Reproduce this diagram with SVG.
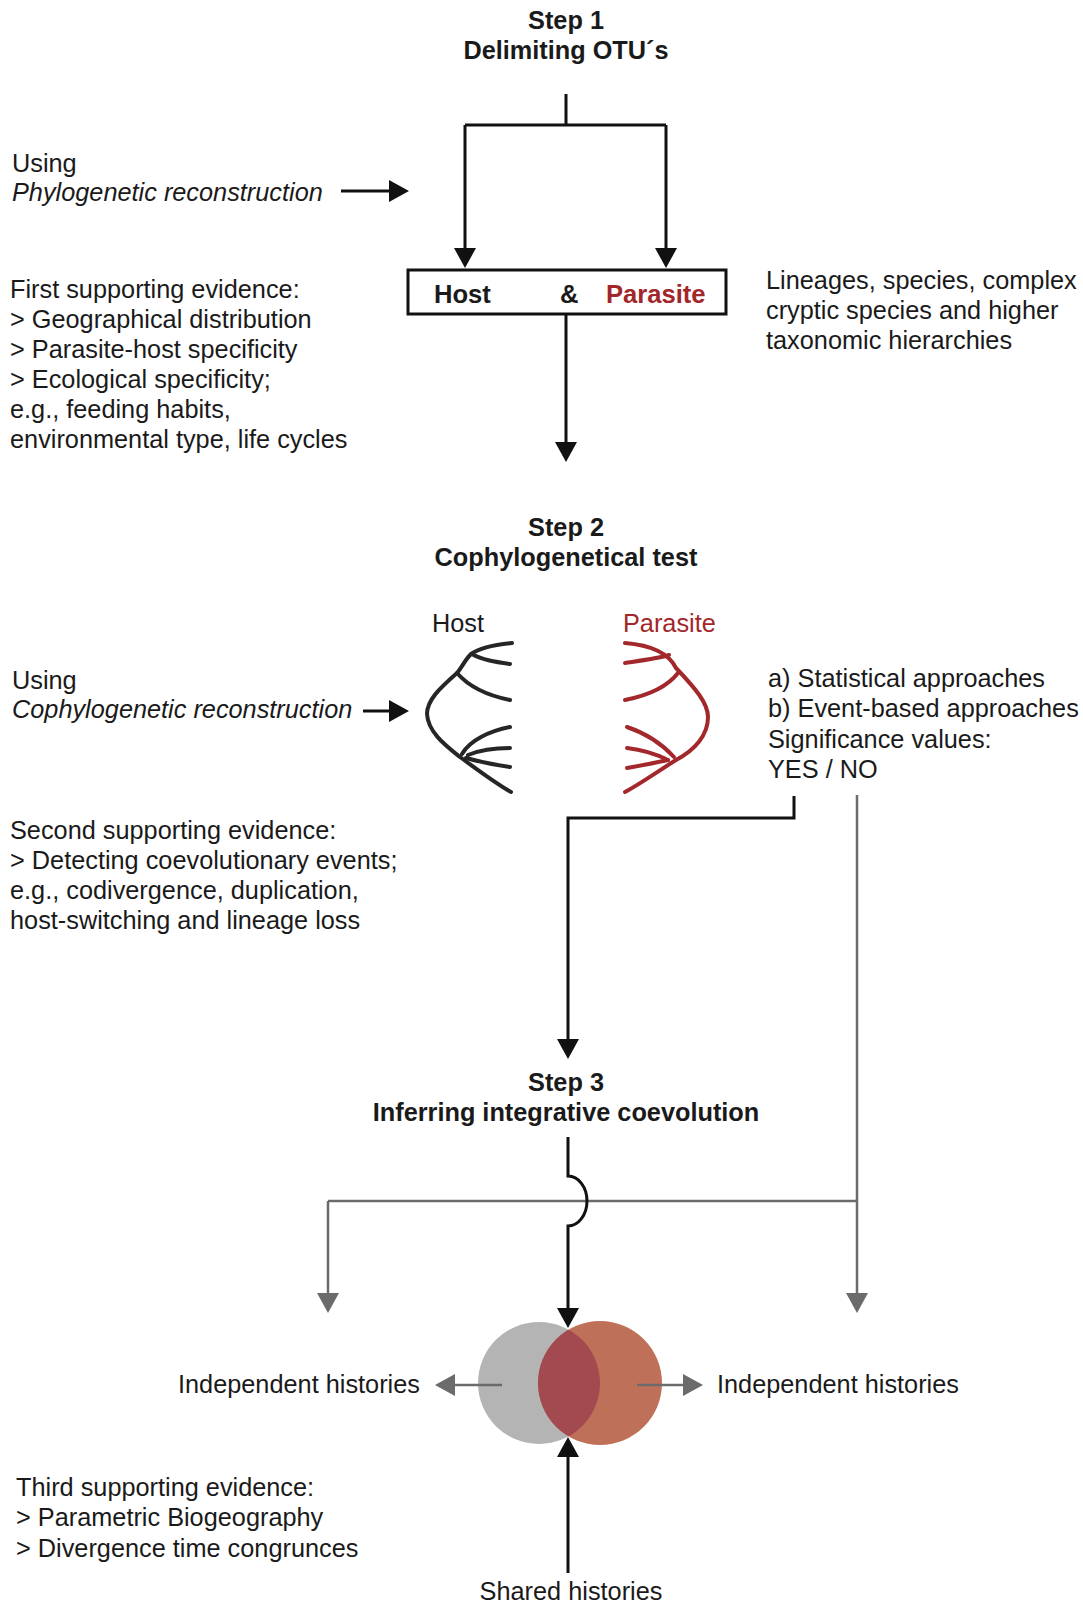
<svg xmlns="http://www.w3.org/2000/svg" width="1083" height="1604" viewBox="0 0 1083 1604">
<style>
text{font-family:"Liberation Sans",Arial,sans-serif;font-size:25.3px;fill:#1a1a1a}
.b{font-weight:bold;font-size:25.3px}
.c{text-anchor:middle}
.i{font-style:italic}
.red{fill:#a3262a}
.k{fill:none;stroke:#111;stroke-width:3}
.g{fill:none;stroke:#6b6b6b;stroke-width:2.5}
.tree{fill:none;stroke-width:4;stroke-linecap:round}
</style>
<defs>
<marker id="ak" viewBox="0 0 20 22" refX="16" refY="11" markerWidth="20" markerHeight="22" markerUnits="userSpaceOnUse" orient="auto"><path d="M0,0 L20,11 L0,22 z" fill="#111"/></marker>
<marker id="ag" viewBox="0 0 20 22" refX="16" refY="11" markerWidth="20" markerHeight="22" markerUnits="userSpaceOnUse" orient="auto"><path d="M0,0 L20,11 L0,22 z" fill="#6b6b6b"/></marker>
<clipPath id="cg"><circle cx="539" cy="1383" r="61"/></clipPath>
</defs>

<g id="step1">
<text class="b c" x="566" y="29">Step 1</text>
<text class="b c" x="566" y="59">Delimiting OTU´s</text>
</g>
<g id="using1">
<text x="12" y="172">Using</text>
<text class="i" x="12" y="201">Phylogenetic reconstruction</text>
</g>
<g id="evidence1">
<text x="10" y="298">First supporting evidence:</text>
<text x="10" y="328">&gt; Geographical distribution</text>
<text x="10" y="358">&gt; Parasite-host specificity</text>
<text x="10" y="388">&gt; Ecological specificity;</text>
<text x="10" y="418">e.g., feeding habits,</text>
<text x="10" y="448">environmental type, life cycles</text>
</g>
<g id="hostparasitebox">
<rect x="408" y="270" width="318" height="44" fill="#fff" stroke="#111" stroke-width="3"/>
<text class="b" x="434" y="303" style="font-size:25.6px">Host</text>
<text class="b" x="560" y="303" style="font-size:25.6px">&amp;</text>
<text class="b red" x="606" y="303" style="font-size:25.6px">Parasite</text>
</g>
<g id="lineages">
<text x="766" y="289">Lineages, species, complex</text>
<text x="766" y="319">cryptic species and higher</text>
<text x="766" y="349">taxonomic hierarchies</text>
</g>

<g id="step2">
<text class="b c" x="566" y="536">Step 2</text>
<text class="b c" x="566" y="566">Cophylogenetical test</text>
</g>
<g id="hosttree">
<text x="432" y="632">Host</text>
<g class="tree" stroke="#262626">
<path d="M512 643 C492 645 478 649 471 654 C465 660 462 667 457 673 C440 688 427 700 427 714 C428 732 445 745 460 757 C478 770 495 783 511 792"/>
<path d="M472 654 C482 660 496 662 510 664"/>
<path d="M457 673 C470 688 490 696 510 700"/>
<path d="M462 754 C470 740 490 731 510 727"/>
<path d="M468 755 C480 750 495 748 510 748"/>
<path d="M466 758 C480 762 495 765 510 767"/>
</g>
</g>
<g id="parasitetree">
<text class="red" x="623" y="632">Parasite</text>
<g class="tree" stroke="#a3282b">
<path d="M625 643 C650 645 668 652 676 668 C695 688 708 703 708 717 C708 735 695 750 676 760 C657 772 640 784 625 792"/>
<path d="M625 663 C645 660 660 658 669 655"/>
<path d="M625 700 C650 695 668 686 678 673"/>
<path d="M627 727 C645 733 662 744 674 757"/>
<path d="M627 748 C645 750 658 755 668 760"/>
<path d="M627 768 C645 765 658 762 668 760"/>
</g>
</g>
<g id="using2">
<text x="12" y="689">Using</text>
<text class="i" x="12" y="718">Cophylogenetic reconstruction</text>
</g>
<g id="approaches">
<text x="768" y="687">a) Statistical approaches</text>
<text x="768" y="717">b) Event-based approaches</text>
<text x="768" y="748">Significance values:</text>
<text x="768" y="778">YES / NO</text>
</g>
<g id="evidence2">
<text x="10" y="839">Second supporting evidence:</text>
<text x="10" y="869">&gt; Detecting coevolutionary events;</text>
<text x="10" y="899">e.g., codivergence, duplication,</text>
<text x="10" y="929">host-switching and lineage loss</text>
</g>

<g id="step3">
<text class="b c" x="566" y="1091">Step 3</text>
<text class="b c" x="566" y="1121">Inferring integrative coevolution</text>
</g>
<g id="venn">
<circle cx="539" cy="1383" r="61" fill="#b4b4b4"/>
<circle cx="600" cy="1383" r="62" fill="#bf7058"/>
<circle cx="600" cy="1383" r="62" fill="#a24a50" clip-path="url(#cg)"/>
</g>
<g id="independent-left"><text x="178" y="1393">Independent histories</text></g>
<g id="independent-right"><text x="717" y="1393">Independent histories</text></g>
<g id="evidence3">
<text x="16" y="1496">Third supporting evidence:</text>
<text x="16" y="1526">&gt; Parametric Biogeography</text>
<text x="16" y="1557">&gt; Divergence time congrunces</text>
</g>
<g id="shared"><text class="c" x="571" y="1600">Shared histories</text></g>

<g id="connectors">
<path class="k" d="M566 94 V125"/>
<path class="k" d="M465 125 H666"/>
<path class="k" d="M465 125 V264" marker-end="url(#ak)"/>
<path class="k" d="M666 125 V264" marker-end="url(#ak)"/>
<path class="k" d="M341 191 H405" marker-end="url(#ak)"/>
<path class="k" d="M566 314 V458" marker-end="url(#ak)"/>
<path class="k" d="M363 711 H405" marker-end="url(#ak)"/>
<path class="k" d="M794 796 V818 H568 V1055" marker-end="url(#ak)"/>
<path class="g" d="M857 795 V1309" marker-end="url(#ag)"/>
<path class="g" d="M328 1201 H857"/>
<path class="g" d="M328 1201 V1309" marker-end="url(#ag)"/>
<path class="k" d="M568 1137 V1176 A19 25 0 0 1 568 1226 V1324" marker-end="url(#ak)"/>
<path class="k" d="M568 1573 V1441" marker-end="url(#ak)"/>
<path class="g" d="M502 1385 H439" marker-end="url(#ag)"/>
<path class="g" d="M637 1385 H699" marker-end="url(#ag)"/>
</g>
</svg>
